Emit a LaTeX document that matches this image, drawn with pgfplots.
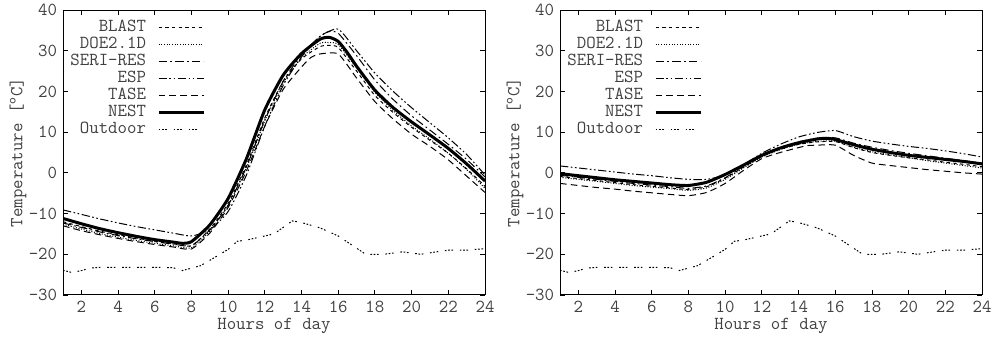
\documentclass[border=0pt]{standalone}
\usepackage{pgfplots}
\pgfplotsset{compat=1.18}
\begin{document}
\begin{tikzpicture}
\useasboundingbox (0,0) rectangle (594.6pt,202.8pt);
\pgfplotsset{
 sBLAST/.style={black, line width=0.6pt, dash pattern=on 2pt off 2pt},
 sDOE/.style={black, line width=0.6pt, dash pattern=on 0.6pt off 1pt},
 sSERI/.style={black, line width=0.6pt, dash pattern=on 5pt off 2pt on 1pt off 2pt},
 sESP/.style={black, line width=0.6pt, dash pattern=on 5pt off 1.5pt on 1pt off 1.5pt on 1pt off 1.5pt},
 sTASE/.style={black, line width=0.6pt, dash pattern=on 4pt off 2.5pt},
 sNEST/.style={black, line width=1.8pt},
 sOUT/.style={black, line width=0.6pt, dash pattern=on 1pt off 1pt on 1pt off 1pt on 1pt off 4pt},
 panel/.style={
  scale only axis, width=253.2pt, height=171pt,
  xmin=1, xmax=24, ymin=-30, ymax=40,
  xtick={2,4,...,24}, ytick={-30,-20,...,40},
  tick align=inside, major tick length=3pt,
  axis line style={line width=0.6pt},
  every tick/.style={black,line width=0.5pt},
  tick label style={font=\fontsize{11}{13}\ttfamily, text=black!75},
  /pgf/number format/assume math mode=true,
  xlabel={Hours of day}, ylabel={Temperature [\textsuperscript{o}C]},
  label style={font=\fontsize{11}{13}\ttfamily, text=black!75},
  xlabel style={at={(axis description cs:0.5,0)}, anchor=center, yshift=-18.5pt},
  ylabel style={at={([xshift=-27pt]axis description cs:0,0.5)}, anchor=center},
  legend cell align=right, legend plot pos=right,
  legend image code/.code={\draw[##1,line cap=butt] (0pt,0pt) -- (27pt,0pt);},
  legend style={at={(axis description cs:0.3365,0.970)}, anchor=north east,
   draw=none, fill=none, inner sep=0pt, outer sep=0pt,
   font=\fontsize{11}{13}\ttfamily, text=black!75, row sep=0pt, column sep=6.6pt,
   nodes={inner sep=0pt, text height=7.5pt, text depth=2.7pt}},
  every axis plot/.append style={smooth, tension=0.35},
 }
}
% ---------------- left panel ----------------
\begin{axis}[panel, at={(37.8pt,25.8pt)}, anchor=south west]
\addplot[sBLAST] coordinates {(1,-12.0)(2,-13.2)(3,-14.3)(4,-15.2)(5,-16.0)(6,-16.8)(7,-17.4)(8,-17.9)(9,-13.8)(10,-7.5)(11,2.0)(12,13.5)(13,22.5)(14,28.0)(15,31.0)(15.5,31.3)(16,30.8)(17,25.0)(18,19.0)(19,14.8)(20,11.2)(21,8.0)(22,4.8)(23,1.0)(24,-3.3)};
\addlegendentry{BLAST}
\addplot[sDOE] coordinates {(1,-12.6)(2,-13.8)(3,-14.9)(4,-15.8)(5,-16.6)(6,-17.3)(7,-17.9)(8,-18.4)(9,-14.3)(10,-8.0)(11,1.2)(12,12.8)(13,22.0)(14,28.3)(15,31.8)(15.5,32.0)(16,31.5)(17,25.8)(18,19.8)(19,15.3)(20,11.5)(21,8.3)(22,4.8)(23,0.8)(24,-3.8)};
\addlegendentry{DOE2.1D}
\addplot[sSERI] coordinates {(1,-12.3)(2,-13.4)(3,-14.5)(4,-15.4)(5,-16.2)(6,-16.9)(7,-17.5)(8,-17.9)(9,-14.0)(10,-8.0)(11,1.5)(12,13.0)(13,22.5)(14,29.0)(15,33.5)(15.5,34.7)(16,34.3)(17,28.8)(18,22.8)(19,18.0)(20,14.0)(21,10.5)(22,7.0)(23,3.3)(24,-1.0)};
\addlegendentry{SERI-RES}
\addplot[sESP] coordinates {(1,-9.1)(2,-10.2)(3,-11.3)(4,-12.3)(5,-13.2)(6,-14.0)(7,-14.8)(8,-15.5)(9,-14.0)(10,-9.5)(11,-0.5)(12,11.5)(13,21.5)(14,28.5)(15,33.5)(16,35.3)(17,30.0)(18,24.5)(19,20.0)(20,16.0)(21,12.3)(22,8.6)(23,4.5)(24,-0.5)};
\addlegendentry{ESP}
\addplot[sTASE] coordinates {(1,-13.0)(2,-14.2)(3,-15.2)(4,-16.1)(5,-16.9)(6,-17.6)(7,-18.2)(8,-18.7)(9,-14.8)(10,-8.5)(11,0.5)(12,11.5)(13,20.5)(14,26.0)(14.5,28.3)(15,29.2)(16,29.2)(17,23.3)(18,17.5)(19,13.2)(20,9.5)(21,6.5)(22,3.2)(23,-0.8)(24,-4.8)};
\addlegendentry{TASE}
\addplot[sNEST] coordinates {(1,-11.2)(2,-12.5)(3,-13.7)(4,-14.7)(5,-15.6)(6,-16.4)(7,-17.0)(7.5,-17.3)(8,-16.9)(9,-12.8)(10,-6.3)(11,3.5)(12,15.5)(13,24.0)(14,29.3)(15,32.8)(15.5,33.3)(16,32.3)(16.5,29.5)(17,26.2)(18,20.3)(19,16.0)(20,12.5)(21,9.3)(22,6.0)(23,2.2)(24,-2.0)};
\addlegendentry{NEST}
\addplot[sOUT, sharp plot] coordinates {(1,-23.9)(1.5,-24.5)(2,-24.0)(2.5,-23.4)(3,-23.2)(4,-23.2)(5,-23.2)(6,-23.2)(7,-23.3)(7.5,-24.0)(8,-23.4)(8.5,-22.8)(9,-21.5)(10,-18.8)(10.5,-16.8)(11,-16.5)(12,-15.5)(12.5,-15.0)(13.5,-11.8)(14,-12.2)(15,-13.5)(16,-15.5)(17,-18.5)(17.5,-20.0)(18.5,-20.0)(19.5,-19.4)(20.5,-20.0)(21.5,-19.3)(22,-19.0)(23,-19.0)(23.5,-18.8)(24,-18.6)};
\addlegendentry{Outdoor}
\end{axis}
% ---------------- right panel ----------------
\begin{axis}[panel, at={(336pt,25.8pt)}, anchor=south west]
\addplot[sBLAST] coordinates {(1,-0.9)(2,-1.4)(3,-1.9)(4,-2.4)(5,-2.9)(6,-3.3)(7,-3.7)(8,-4.1)(9,-3.4)(10,-1.3)(11,1.4)(12,4.0)(13,5.8)(14,7.0)(15,7.6)(16,7.7)(17,6.2)(18,5.0)(19,4.3)(20,3.7)(21,3.2)(22,2.6)(23,2.1)(24,1.5)};
\addlegendentry{BLAST}
\addplot[sDOE] coordinates {(1,-1.1)(2,-1.6)(3,-2.1)(4,-2.6)(5,-3.1)(6,-3.5)(7,-3.9)(8,-4.3)(9,-3.7)(10,-1.6)(11,1.2)(12,3.9)(13,5.7)(14,7.0)(15,7.7)(16,7.8)(17,6.3)(18,5.2)(19,4.4)(20,3.7)(21,3.0)(22,2.4)(23,1.8)(24,1.2)};
\addlegendentry{DOE2.1D}
\addplot[sSERI] coordinates {(1,-0.6)(2,-1.1)(3,-1.6)(4,-2.1)(5,-2.6)(6,-3.0)(7,-3.4)(8,-3.8)(9,-3.2)(10,-1.2)(11,1.6)(12,4.2)(13,6.2)(14,7.6)(15,8.5)(16,8.6)(17,7.3)(18,6.3)(19,5.5)(20,4.8)(21,4.2)(22,3.6)(23,3.0)(24,2.4)};
\addlegendentry{SERI-RES}
\addplot[sESP] coordinates {(1,1.7)(2,1.2)(3,0.7)(4,0.2)(5,-0.3)(6,-0.7)(7,-1.2)(8,-1.6)(9,-1.6)(10,-0.5)(11,2.0)(12,4.8)(13,7.0)(14,8.8)(15,9.9)(16,10.4)(17,8.9)(18,7.8)(19,7.1)(20,6.5)(21,6.0)(22,5.4)(23,4.7)(24,3.9)};
\addlegendentry{ESP}
\addplot[sTASE] coordinates {(1,-2.6)(2,-3.1)(3,-3.6)(4,-4.0)(5,-4.5)(6,-4.9)(7,-5.3)(8,-5.6)(9,-4.8)(10,-2.6)(11,0.6)(12,3.5)(13,5.0)(14,6.2)(14.5,6.7)(15,6.8)(16,6.8)(17,4.3)(18,2.4)(19,1.8)(20,1.3)(21,0.8)(22,0.4)(23,0.0)(24,-0.3)};
\addlegendentry{TASE}
\addplot[sNEST] coordinates {(1,-0.2)(2,-0.7)(3,-1.2)(4,-1.7)(5,-2.1)(6,-2.5)(7,-2.9)(8,-3.1)(9,-2.3)(10,-0.4)(11,1.9)(12,4.3)(13,6.1)(14,7.4)(15,8.3)(15.5,8.5)(16,8.2)(17,6.9)(18,5.8)(19,5.0)(20,4.3)(21,3.8)(22,3.3)(23,2.8)(24,2.2)};
\addlegendentry{NEST}
\addplot[sOUT, sharp plot] coordinates {(1,-23.9)(1.5,-24.5)(2,-24.0)(2.5,-23.4)(3,-23.2)(4,-23.2)(5,-23.2)(6,-23.2)(7,-23.3)(7.5,-24.0)(8,-23.4)(8.5,-22.8)(9,-21.5)(10,-18.8)(10.5,-16.8)(11,-16.5)(12,-15.5)(12.5,-15.0)(13.5,-11.8)(14,-12.2)(15,-13.5)(16,-15.5)(17,-18.5)(17.5,-20.0)(18.5,-20.0)(19.5,-19.4)(20.5,-20.0)(21.5,-19.3)(22,-19.0)(23,-19.0)(23.5,-18.8)(24,-18.6)};
\addlegendentry{Outdoor}
\end{axis}
\end{tikzpicture}
\end{document}
